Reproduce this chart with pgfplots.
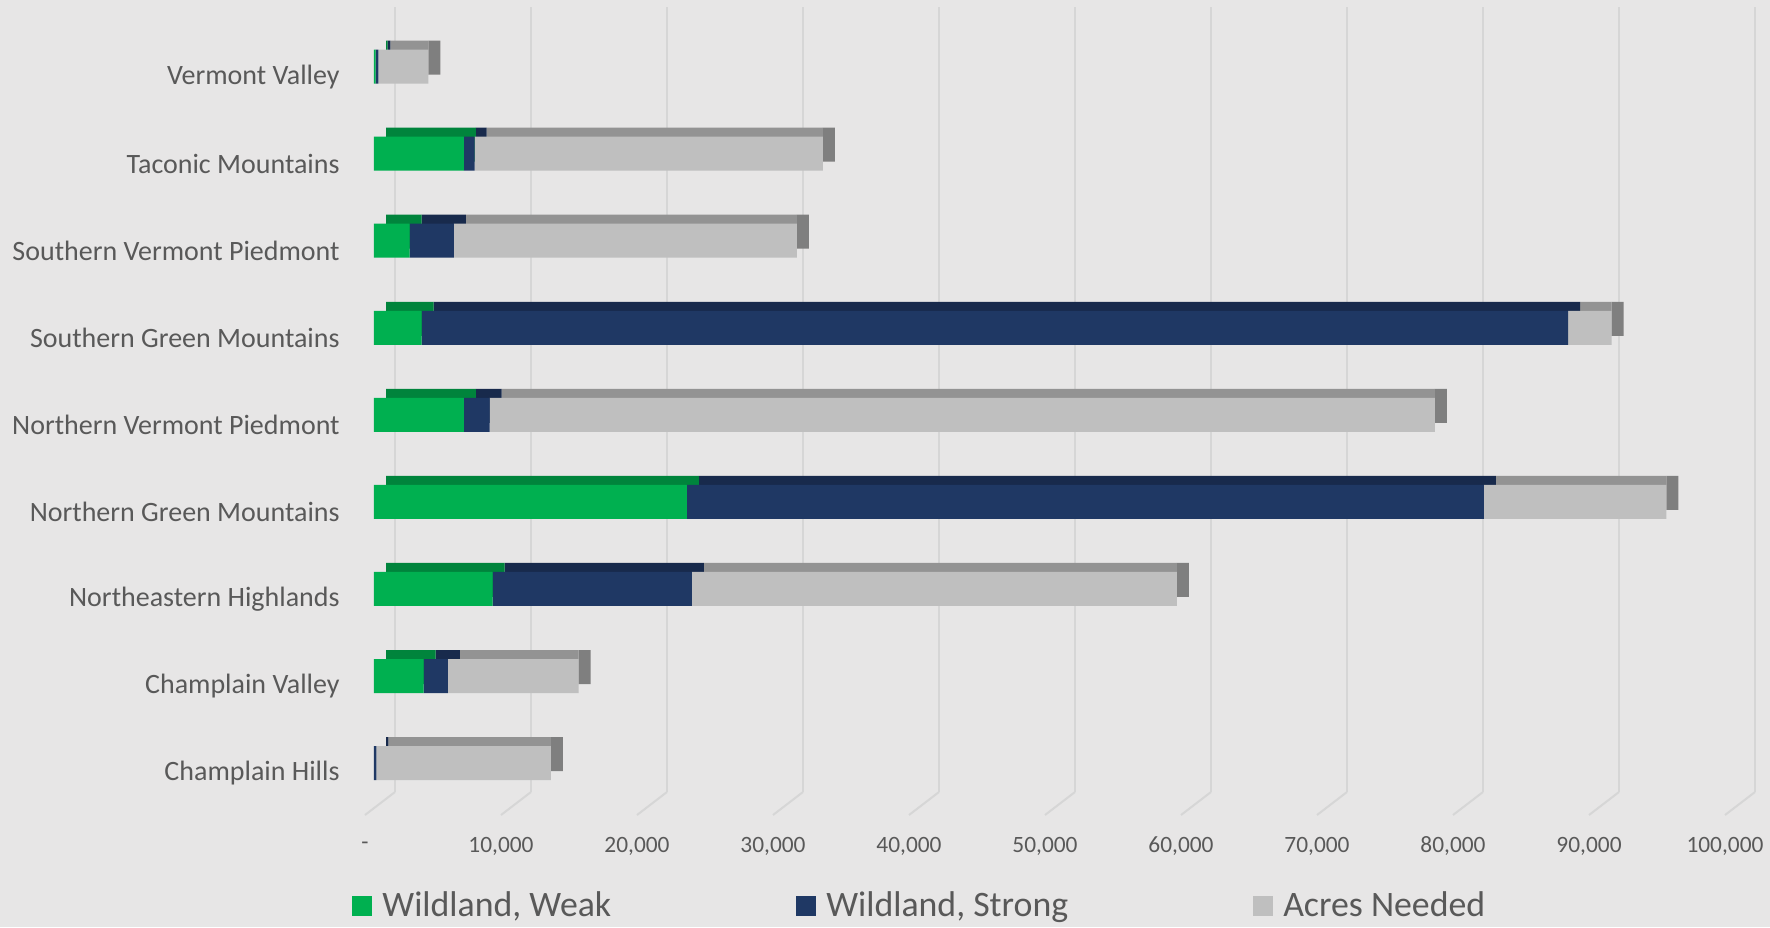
\documentclass[border=0pt]{standalone}
\usepackage{fontspec}
\setmainfont{Carlito}
\usepackage{pgfplots}
\pgfplotsset{compat=1.18}
\usepackage{pgfplotstable}

\definecolor{bg}{HTML}{E7E6E6}
\definecolor{gridc}{HTML}{D6D6D6}
\definecolor{txt}{HTML}{595959}
\definecolor{weak}{HTML}{00B050}
\definecolor{weaktop}{HTML}{00843C}
\definecolor{strong}{HTML}{1F3864}
\definecolor{strongtop}{HTML}{182A4C}
\definecolor{need}{HTML}{BFBFBF}
\definecolor{needtop}{HTML}{939393}
\definecolor{needside}{HTML}{7F7F7F}

% acres per region, bottom (0) to top (8)
\pgfplotstableread{
y weak strong needed
0 0     170   12830
1 3650  1790  9610
2 8730  14650 35660
3 23000 58600 13430
4 6600  1900  69500
5 3500  84300 3200
6 2620  3260  25220
7 6600  800   25600
8 120   200   3680
}\acres

\pgfplotsset{
  barbase/.style={
    scale only axis,
    width=680pt, height=391.77pt,
    xmin=0, xmax=100000,
    ymin=-0.5, ymax=8.5,
    enlargelimits=false,
    scaled x ticks=false,
    xbar stacked,
    bar width=17pt,
  },
}

\begin{document}
\begin{tikzpicture}
\useasboundingbox (-187pt,-60.2pt) rectangle (698pt,403.3pt);
\fill[bg] (-187pt,-60.2pt) rectangle (698pt,403.3pt);

% back wall with grid lines
\begin{axis}[
  at={(10.5pt,7.3pt)}, anchor=south west,
  scale only axis, width=680pt, height=392.5pt,
  xmin=0, xmax=100000, ymin=0, ymax=1,
  scaled x ticks=false, clip=false,
  xtick={0,10000,...,100000}, xticklabels={},
  ytick=\empty,
  xmajorgrids, grid style={gridc, line width=1pt},
  axis line style={draw=none}, tick style={draw=none},
]
  \pgfplotsinvokeforeach{0,10000,20000,30000,40000,50000,60000,70000,80000,90000,100000}{
    \draw[gridc, line width=1pt] (axis cs:#1,0) -- ++(-15pt,-11.5pt);
  }
\end{axis}

% depth of the bars (top and side faces)
\begin{axis}[
  barbase,
  at={(6pt,4.5pt)}, anchor=south west,
  hide axis,
]
  \addplot[fill=weaktop, draw=none] table[x=weak, y=y] {\acres};
  \addplot[fill=strongtop, draw=none] table[x=strong, y=y] {\acres};
  \addplot[fill=needtop, draw=none] table[x expr=\thisrow{needed}-880, y=y] {\acres};
  \addplot[fill=needside, draw=none] table[x expr=880, y=y] {\acres};
\end{axis}

% front faces
\begin{axis}[
  barbase,
  at={(0pt,0pt)}, anchor=south west,
  axis line style={draw=none}, tick style={draw=none},
  ytick={0,...,8},
  yticklabels={Champlain Hills, Champlain Valley, Northeastern Highlands, Northern Green Mountains, Northern Vermont Piedmont, Southern Green Mountains, Southern Vermont Piedmont, Taconic Mountains, Vermont Valley},
  yticklabel style={anchor=east, inner sep=0pt, xshift=-17pt, yshift=-5pt, text=txt, font=\fontsize{14}{16}\selectfont},
  xtick={0,10000,...,100000},
  xticklabels={-,{10,000},{20,000},{30,000},{40,000},{50,000},{60,000},{70,000},{80,000},{90,000},{100,000}},
  xticklabel style={anchor=center, inner sep=0pt, xshift=-4.5pt, yshift=-19.7pt, text=txt, font=\fontsize{11.7}{14}\selectfont},
  legend columns=3,
  legend image code/.code={\fill[#1] (0pt,-5pt) rectangle (10pt,5pt);},
  legend style={
    at={(-0.01618,-0.1269)}, anchor=west,
    draw=none, fill=none, inner sep=0pt,
    text=txt, font=\fontsize{17.9}{21}\selectfont,
    /tikz/every odd column/.append style={column sep=3pt},
    /tikz/every even column/.append style={column sep=90.5pt},
  },
  legend cell align=left,
]
  \addplot[fill=weak, draw=none] table[x=weak, y=y] {\acres};
  \addplot[fill=strong, draw=none] table[x=strong, y=y] {\acres};
  \addplot[fill=need, draw=none] table[x=needed, y=y] {\acres};
  \legend{{Wildland, Weak}, {Wildland, Strong}, {Acres Needed}}
\end{axis}
\end{tikzpicture}
\end{document}
